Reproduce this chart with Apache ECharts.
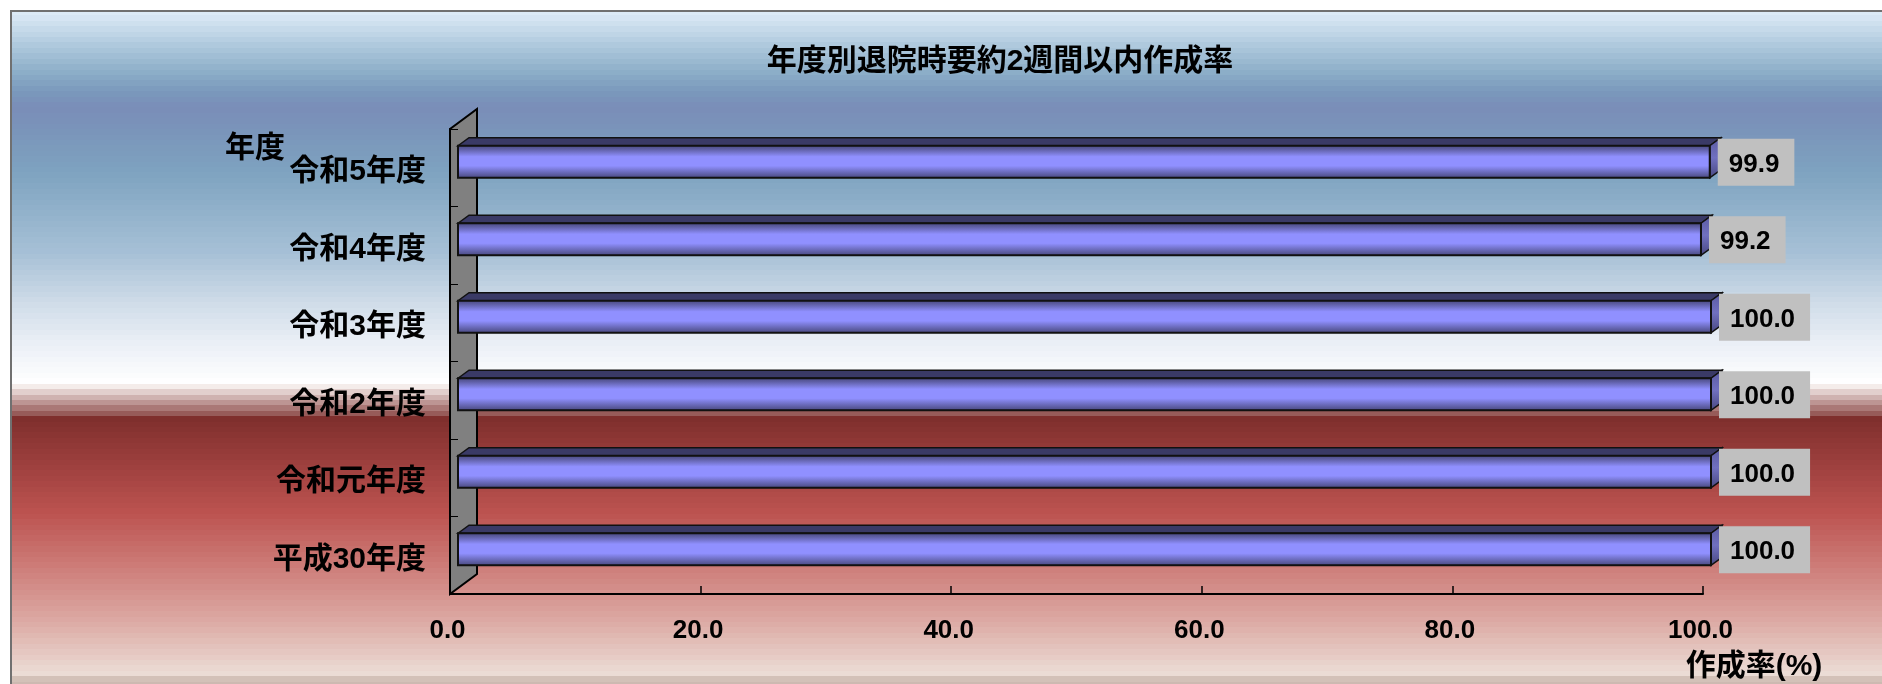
<!DOCTYPE html>
<html><head><meta charset="utf-8">
<style>html,body{margin:0;padding:0;background:#fff}#c{width:1882px;height:684px}</style>
<script src="https://cdn.jsdelivr.net/npm/echarts@6/dist/echarts.min.js"></script>
</head><body><div id="c"></div>
<script>
const titleText = '年度別退院時要約2週間以内作成率';
const yAxisName = '年度';
const xAxisName = '作成率(%)';
const categories = ['平成30年度','令和元年度','令和2年度','令和3年度','令和4年度','令和5年度'];
const rates = [100.0,100.0,100.0,100.0,99.2,99.9];

const LATIN_CJK = '"Liberation Sans","Noto Sans CJK JP",sans-serif';
const W = 1882, H = 684;

// background colour keys: [y, colour]
const bgKeys = [[12,'#DCEAF6'],[40,'#B4CDE0'],[70,'#8CAEC8'],[90,'#7A98BC'],[105,'#7A8DB8'],[130,'#7A95BA'],[170,'#7EA3C0'],[250,'#A6C0D6'],[300,'#CFDCE8'],[340,'#EAEFF6'],[380,'#FFFFFF'],[384,'#F3EAE8'],[413,'#8F4E4C'],[414,'#7E2E2C'],[490,'#B04B48'],[510,'#BC5350'],[560,'#CC7A76'],[620,'#DDACA6'],[673,'#ECDFD8'],[674,'#D3C1B8'],[680,'#D3C1B8'],[681,'#C9B4AC'],[686,'#C9B4AC']];
const BG_TOP = 11, BG_BOTTOM = 686;
function rgb(h){return [1,3,5].map(i=>parseInt(h.substr(i,2),16));}
function bandedStops(top,bottom,step){
  const stops=[];const span=bottom-top;
  for(let y=top;y<bottom;y+=step){
    let k=0;while(k<bgKeys.length-2&&bgKeys[k+1][0]<=y)k++;
    const a=bgKeys[k],b=bgKeys[k+1];
    const t=Math.max(0,Math.min(1,(y-a[0])/(b[0]-a[0])));
    const ca=rgb(a[1]),cb=rgb(b[1]);
    const col='rgb('+ca.map((v,i)=>Math.round(v+(cb[i]-v)*t)).join(',')+')';
    stops.push({offset:(y-top)/span,color:col});
    stops.push({offset:Math.min(1,(y+step-top)/span),color:col});
  }
  return stops;
}

const bodyFill = {type:'linear',x:0,y:0,x2:0,y2:1,colorStops:[
  {offset:0,color:'#45457A'},{offset:.12,color:'#5C5CA0'},{offset:.35,color:'#9090FF'},{offset:.62,color:'#9090FF'},{offset:.88,color:'#5C5CA0'},{offset:1,color:'#45457A'}]};
const sideFill = {type:'linear',x:0,y:0,x2:0,y2:1,colorStops:[
  {offset:0,color:'#5A5AA0'},{offset:.5,color:'#7070C0'},{offset:1,color:'#484880'}]};

function renderWall(params){
  const g=params.coordSys;const dx=27,dy=20;
  return {type:'polygon',shape:{points:[[g.x,g.y+g.height],[g.x,g.y],[g.x+dx,g.y-dy],[g.x+dx,g.y+g.height-dy]]},
    style:{fill:'#808080',stroke:'#000',lineWidth:2,lineJoin:'miter'}};
}
function renderBar(params,api){
  const v=api.value(0),end=api.coord([v,api.value(1)]),base=api.coord([0,api.value(1)]);
  const h=32,dx=11,dy=8,shift=8;
  const x0=base[0]+shift,x1=end[0]+shift,y0=end[1]-6-h/2,y1=y0+h;
  return {type:'group',children:[
    {type:'polygon',shape:{points:[[x0,y0],[x0+dx,y0-dy],[x1+dx,y0-dy],[x1,y0]]},style:{fill:'#3A3A66',stroke:'#111',lineWidth:1.5}},
    {type:'polygon',shape:{points:[[x1,y0],[x1+dx,y0-dy],[x1+dx,y1-dy],[x1,y1]]},style:{fill:sideFill,stroke:'#111',lineWidth:1.5}},
    {type:'rect',shape:{x:x0,y:y0,width:x1-x0,height:h},style:{fill:bodyFill,stroke:'#111',lineWidth:2}},
    {type:'text',x:x1+8,y:y0+h/2-23,style:{text:v.toFixed(1),fill:'#000',font:'bold 26px '+LATIN_CJK,
      align:'left',verticalAlign:'top',backgroundColor:'#C0C0C0',padding:[13,15,8,11]}}
  ]};
}

const chart = echarts.init(document.getElementById('c'),null,{renderer:'canvas'});
chart.setOption({
  animation:false,
  textStyle:{fontFamily:LATIN_CJK},
  title:{text:titleText,left:995,top:57,textAlign:'center',textVerticalAlign:'middle',
    textStyle:{fontSize:30,fontWeight:'bold',color:'#000',fontFamily:LATIN_CJK}},
  graphic:[
    {type:'rect',z:-10,silent:true,shape:{x:11,y:BG_TOP,width:W,height:BG_BOTTOM-BG_TOP},
      style:{fill:{type:'linear',x:0,y:0,x2:0,y2:1,colorStops:bandedStops(BG_TOP,BG_BOTTOM,5.4)},stroke:'#707070',lineWidth:2}},
    {type:'text',z:10,x:255,y:149,style:{text:yAxisName,font:'bold 30px '+LATIN_CJK,fill:'#000',align:'center',verticalAlign:'middle'}},
    {type:'text',z:10,x:1754,y:667,style:{text:xAxisName,font:'bold 30px '+LATIN_CJK,fill:'#000',align:'center',verticalAlign:'middle'}}
  ],
  grid:{left:450,right:W-1703,top:129,bottom:H-594,containLabel:false},
  xAxis:{type:'value',min:0,max:100,interval:20,z:3,
    axisLine:{show:true,lineStyle:{color:'#000',width:2}},
    axisTick:{show:true,inside:true,length:8,lineStyle:{color:'#000',width:1.5}},
    splitLine:{show:false},
    axisLabel:{margin:24,padding:[0,5,0,0],color:'#000',fontWeight:'bold',fontSize:26,fontFamily:LATIN_CJK,formatter:v=>v.toFixed(1)}},
  yAxis:{type:'category',data:categories,z:3,
    axisLine:{show:true,lineStyle:{color:'#000',width:2}},
    axisTick:{show:true,inside:true,length:8,lineStyle:{color:'#000',width:1}},
    axisLabel:{margin:24,verticalAlign:'top',lineHeight:8,color:'#000',fontWeight:'bold',fontSize:30,fontFamily:LATIN_CJK}},
  series:[
    {type:'custom',name:'wall',z:1,silent:true,coordinateSystem:'cartesian2d',clip:false,renderItem:renderWall,data:[[0,0]],encode:{x:0,y:1}},
    {type:'custom',name:'作成率',z:4,coordinateSystem:'cartesian2d',clip:false,renderItem:renderBar,
      data:rates.map((r,i)=>[r,i]),encode:{x:0,y:1}}
  ]
});
</script></body></html>
